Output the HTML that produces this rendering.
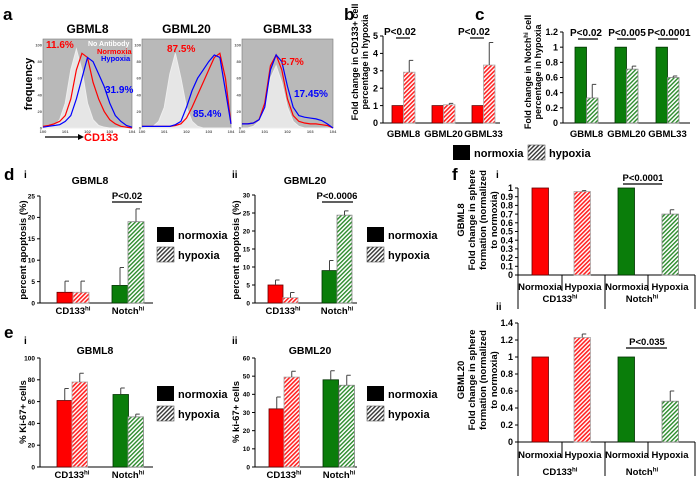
<!DOCTYPE html>
<html><head><meta charset="utf-8"><style>
body{margin:0;background:#fff}
svg{display:block;font-family:"Liberation Sans",Arial,sans-serif;font-weight:bold}
</style></head><body>
<svg id="fig" width="700" height="486" viewBox="0 0 700 486" xmlns="http://www.w3.org/2000/svg">
<defs>
<pattern id="hr" patternUnits="userSpaceOnUse" width="3" height="3" patternTransform="rotate(45)"><rect width="3" height="3" fill="#fff"/><rect width="1.6" height="3" fill="#f22"/></pattern>
<pattern id="hg" patternUnits="userSpaceOnUse" width="3" height="3" patternTransform="rotate(45)"><rect width="3" height="3" fill="#fff"/><rect width="1.4" height="3" fill="#2a8a2a"/></pattern>
<pattern id="hk" patternUnits="userSpaceOnUse" width="3" height="3" patternTransform="rotate(45)"><rect width="3" height="3" fill="#fff"/><rect width="1.4" height="3" fill="#333"/></pattern>
</defs>
<g id="root"></g>
</svg>
<script>
// ---- histogram data (panel a), values at decades 0..4 step 0.25 ----
const histDecades=[0,0.25,0.5,0.75,1,1.25,1.5,1.75,2,2.25,2.5,2.75,3,3.25,3.5,3.75,4];
const noAb8=[0,1,3,10,30,70,95,70,30,10,3,1,0,0,0,0,0];
const norm8=[2,3,5,8,15,35,70,90,85,55,35,20,10,5,2,1,0];
const hyp8=[1,2,3,4,8,15,35,60,85,80,65,50,30,15,8,3,1];
const noAb20=[0,1,2,8,25,65,90,60,25,8,2,0,0,0,0,0,0];
const norm20=[2,2,2,2,2,2,3,5,12,25,40,55,70,85,90,60,5];
const hyp20=[2,2,2,2,2,2,4,8,25,45,60,70,80,88,85,45,5];
const noAb33=[0,0,2,8,30,60,75,55,25,8,2,0,0,0,0,0,0];
const norm33=[5,5,6,10,30,75,88,70,35,15,8,6,5,5,4,3,0];
const hyp33=[5,5,6,10,25,70,88,80,50,25,15,13,12,11,9,5,0];
// ---- bar data ----
const bCats=["GBML8","GBML20","GBML33"];
const bNorm=[1,1,1]; const bHyp=[2.92,1.05,3.33]; const bHypErr=[0.68,0.08,1.3];
const bTicks=[0,1,2,3,4,5];
const cNorm=[1,1,1]; const cHyp=[0.33,0.71,0.60]; const cHypErr=[0.18,0.04,0.02];
const cTicks=[0,0.2,0.4,0.6,0.8,1,1.2];
const dCats=["CD133","Notch"];
const d1Vals=[2.5,2.5,4.1,19]; const d1Err=[2.6,2.6,4.2,3];
const d1Ticks=[0,5,10,15,20,25];
const d2Vals=[5,1.5,9,24.4]; const d2Err=[1.4,1.4,2.8,1.2];
const d2Ticks=[0,5,10,15,20,25,30];
const e1Vals=[61,78,66.5,46]; const e1Err=[11,8,6,2.5];
const e1Ticks=[0,20,40,60,80,100];
const e2Vals=[32,49.5,48,45]; const e2Err=[6.5,3.2,5,5.5];
const e2Ticks=[0,10,20,30,40,50,60];
const f1Vals=[1,0.96,1,0.70]; const f1Err=[0,0.01,0,0.05];
const f1Ticks=[0,0.1,0.2,0.3,0.4,0.5,0.6,0.7,0.8,0.9,1];
const f2Vals=[1,1.23,1,0.48]; const f2Err=[0,0.04,0,0.12];
const f2Ticks=[0,0.2,0.4,0.6,0.8,1,1.2,1.4];

const NS="http://www.w3.org/2000/svg";
const root=document.getElementById('root');
function mk(tag,at,parent){const e=document.createElementNS(NS,tag);for(const k in at)e.setAttribute(k,at[k]);(parent||root).appendChild(e);return e;}
function txt(x,y,s,size,fill,anchor,parent){const t=mk('text',{x:x,y:y,'font-size':size,fill:fill||'#000','text-anchor':anchor||'start'},parent);t.textContent=s;return t;}

// ---- panel a ----
function hist(x0,y0,w,h,title,noAb,norm,hyp,name){
  const g=mk('g',{});
  
  
  mk('rect',{x:x0,y:y0,width:w,height:h,fill:'#b9b9b9',stroke:'#777','stroke-width':0.6},g);
  const sx=d=>x0+d/4*w, sy=v=>y0+h-v/100*(h-6);
  function pts(arr){return arr.map((v,i)=>sx(histDecades[i])+','+sy(v)).join(' ');}
  const fill=mk('polygon',{points:sx(0)+','+sy(0)+' '+pts(noAb)+' '+sx(4)+','+sy(0),fill:'#e6e6e6',stroke:'#eee'},g);
  
  
  const r=mk('polyline',{points:pts(norm),fill:'none',stroke:'#f00','stroke-width':1.2},g);
  
  
  const b=mk('polyline',{points:pts(hyp),fill:'none',stroke:'#00f','stroke-width':1.2},g);
  
  
  const t=txt(x0+w/2,y0-6,title,12,'#000','middle',g);
  
  
  [0,20,40,60,80,100].forEach(v=>txt(x0-1,sy(v)+1.5,v,4,'#555','end',g));
  [0,1,2,3,4].forEach(d=>txt(sx(d),y0+h+5,'10'+d,4,'#555','middle',g));
  return g;
}
txt(3,20,'a',17);
hist(43,39,89,89,'GBML8',noAb8,norm8,hyp8,'histogram-gbml8');
hist(142,39,89,89,'GBML20',noAb20,norm20,hyp20,'histogram-gbml20');
hist(242,39,91,89,'GBML33',noAb33,norm33,hyp33,'histogram-gbml33');
txt(46,48,'11.6%',10,'#f00');txt(88,46,'No Antibody',7,'#fff');txt(97,54,'Normoxia',7.5,'#f00');txt(101,61,'Hypoxia',7.5,'#00f');
txt(105,93,'31.9%',10,'#00f');
txt(167,52,'87.5%',10,'#f00');txt(193,117,'85.4%',10,'#00f');
txt(281,65,'5.7%',10,'#f00');txt(294,97,'17.45%',10,'#00f');
{const t=txt(0,0,'frequency',11);t.setAttribute('transform','translate(32,84) rotate(-90)');t.setAttribute('text-anchor','middle');}
mk('line',{x1:45,y1:137,x2:80,y2:137,stroke:'#000','stroke-width':1.3});
mk('polygon',{points:'84,137 78,134 78,140',fill:'#000'});
txt(84,141,'CD133',11,'#f00');

// ---- generic bar chart ----
function barChart(o){
  const g=mk('g',{});
  
  
  const ymax=o.ticks[o.ticks.length-1];
  const sy=v=>o.y0-(v/ymax)*(o.y0-o.yTop);
  mk('line',{x1:o.ax,y1:o.yTop,x2:o.ax,y2:o.y0,stroke:'#000','stroke-width':1},g);
  mk('line',{x1:o.ax,y1:o.y0,x2:o.axEnd,y2:o.y0,stroke:'#000','stroke-width':1},g);
  o.ticks.forEach(t=>{const y=sy(t);mk('line',{x1:o.ax-3,y1:y,x2:o.ax,y2:y,stroke:'#000'},g);
    const lab=txt(o.ax-5,y+o.tickSize*0.35,(o.fmt?o.fmt(t):t),o.tickSize,'#000','end',g);
    
    });
  o.values.forEach((v,i)=>{
    const x=o.barX[i],w=o.barW;
    const r=mk('rect',{x:x,y:sy(v),width:w,height:o.y0-sy(v),fill:o.fills[i],stroke:o.strokes[i],'stroke-width':0.8},g);
    
    
    const e=o.errs[i];
    if(e>0){const xm=x+w/2;const ye=sy(v+e);
      const el=mk('path',{d:`M${xm},${sy(v)}V${ye}M${xm},${ye}H${xm+4}`,stroke:'#444','stroke-width':1,fill:'none'},g);
      
      }
  });
  return {g,sy};
}
const red='#f00',green='#0a7d0a';
function hiLabel(x,y,base,size,parent){const t=txt(x,y,base,size,'#000','middle',parent);const s=mk('tspan',{'font-size':size*0.65,dy:-size*0.35},t);s.textContent='hi';return t;}
function pval(cx,y,s,x1,x2,size){txt(cx,y,s,size||10,'#000','middle');mk('line',{x1:x1,y1:y+3,x2:x2,y2:y+3,stroke:'#000','stroke-width':1.2});}
function ytitle(cx,cy,lines,size,gap){lines.forEach((l,i)=>{const t=txt(0,0,l,size,'#000','middle');t.setAttribute('transform',`translate(${cx+i*gap},${cy}) rotate(-90)`);});}
function swatch(x,y,fill,name){
  const a=mk('rect',{x:x,y:y,width:17,height:15,fill:fill,stroke:fill==='#000'?'none':'#555','stroke-width':0.6});
  
  
}
function legend(x,y,gap,size){
  swatch(x,y,'#000','legend-normoxia-swatch');
  txt(x+21,y+12,'normoxia',size);
  swatch(x,y+gap,'url(#hk)','legend-hypoxia-swatch');
  txt(x+21,y+gap+12,'hypoxia',size);
}

// ---- panel b ----
txt(344,20,'b',17);
{const groupX=[392,432,472];
 const vals=[],errs=[],bx=[],fills=[],strokes=[];
 bCats.forEach((c,i)=>{vals.push(bNorm[i],bHyp[i]);errs.push(0,bHypErr[i]);bx.push(groupX[i],groupX[i]+11.5);fills.push(red,'url(#hr)');strokes.push('#600','#aaa');});
 barChart({name:'chart-b',ax:383,axEnd:500,y0:123,yTop:36,ticks:bTicks,tickSize:9,values:vals,errs:errs,barX:bx,barW:11.5,fills:fills,strokes:strokes});
 bCats.forEach((c,i)=>txt(groupX[i]+11.5,137,c,9.5,'#000','middle'));
 pval(400,35,'P<0.02',396,410);pval(474,35,'P<0.02',470,484);
 ytitle(358,62,['Fold change in CD133+ cell','percentage in hypoxia'],9,10);
}
// ---- panel c ----
txt(475,20,'c',17);
{const groupX=[575,615,656];
 const vals=[],errs=[],bx=[],fills=[],strokes=[];
 bCats.forEach((c,i)=>{vals.push(cNorm[i],cHyp[i]);errs.push(0,cHypErr[i]);bx.push(groupX[i],groupX[i]+11.5);fills.push(green,'url(#hg)');strokes.push('#030','#888');});
 barChart({name:'chart-c',ax:563,axEnd:690,y0:123,yTop:32,ticks:cTicks,tickSize:9,values:vals,errs:errs,barX:bx,barW:11.5,fills:fills,strokes:strokes});
 bCats.forEach((c,i)=>txt(groupX[i]+11.5,137,c,9.5,'#000','middle'));
 pval(586,36,'P<0.02',578,598);pval(627,36,'P<0.005',617,636);pval(669,36,'P<0.0001',658,678);
 {const t=txt(0,0,'Fold change in Notch',9,'#000','middle');t.setAttribute('transform','translate(531,72) rotate(-90)');const s=mk('tspan',{'font-size':6,dy:-3},t);s.textContent='hi';const s2=mk('tspan',{dy:3},t);s2.textContent=' cell';
  const t2=txt(0,0,'percentage in hypoxia',9,'#000','middle');t2.setAttribute('transform','translate(541,72) rotate(-90)');}
}
swatch(453,145,'#000','legend-normoxia-swatch-bc');
txt(474,157,'normoxia',11);
swatch(528,145,'url(#hk)','legend-hypoxia-swatch-bc');
txt(549,157,'hypoxia',11);

// ---- panel d ----
txt(4,180,'d',17);
function fourBar(name,ax,axEnd,y0,yTop,ticks,vals,errs,bx,bw,catX,catY,tsize){
  barChart({name:name,ax:ax,axEnd:axEnd,y0:y0,yTop:yTop,ticks:ticks,tickSize:tsize||6.5,values:vals,errs:errs,barX:bx,barW:bw,fills:[red,'url(#hr)',green,'url(#hg)'],strokes:['#600','#aaa','#030','#888']});
  dCats.forEach((c,i)=>hiLabel(catX[i],catY,c,9.5));
}
txt(24,178,'i',10);txt(90,184,'GBML8',10.5,'#000','middle');
fourBar('chart-d-i',40,153,303,196,d1Ticks,d1Vals,d1Err,[57,73,112,128],16,[73,128],314);
pval(127,199,'P<0.02',112,142,9.5);
ytitle(26,250,['percent apoptosis (%)'],9.5,0);
legend(157,227,20,11);
txt(232,178,'ii',10);txt(305,184,'GBML20',10.5,'#000','middle');
fourBar('chart-d-ii',255,357,303,195,d2Ticks,d2Vals,d2Err,[268,283,322,337],15,[283,337],314);
pval(337,199,'P<0.0006',322,353,9.5);
ytitle(239,250,['percent apoptosis (%)'],9.5,0);
legend(367,227,20,11);

// ---- panel e ----
txt(4,338,'e',17);
txt(24,344,'i',10);txt(95,354,'GBML8',10.5,'#000','middle');
fourBar('chart-e-i',40,153,467,358,e1Ticks,e1Vals,e1Err,[57,72,113,128],15.5,[72,128],478);
ytitle(26,412,['% Ki-67+ cells'],9.5,0);
legend(157,386,20,11);
txt(232,344,'ii',10);txt(310,354,'GBML20',10.5,'#000','middle');
fourBar('chart-e-ii',255,357,467,358,e2Ticks,e2Vals,e2Err,[269,284,323,339],15.5,[284,339],478);
ytitle(239,412,['% ki-67+ cells'],9.5,0);
legend(367,386,20,11);

// ---- panel f ----
txt(452,180,'f',17);
function fChart(name,y0,yTop,ticks,vals,errs,catY,grpY){
  barChart({name:name,ax:518,axEnd:695,y0:y0,yTop:yTop,ticks:ticks,tickSize:9,fmt:t=>+t.toFixed(1),values:vals,errs:errs,barX:[532,574,618,662],barW:16.5,fills:[red,'url(#hr)',green,'url(#hg)'],strokes:['#600','#aaa','#030','#888']});
  ['Normoxia','Hypoxia','Normoxia','Hypoxia'].forEach((c,i)=>txt([540,583,627,670][i],catY,c,9.5,'#000','middle'));
  [562,648].forEach(x=>mk('line',{x1:x,y1:y0,x2:x,y2:y0+16,stroke:'#000'}));
  [518,605,695].forEach(x=>mk('line',{x1:x,y1:y0,x2:x,y2:y0+34,stroke:'#000'}));
  hiLabel(560,grpY,'CD133',9.5);hiLabel(642,grpY,'Notch',9.5);
}
txt(496,178,'i',10);
fChart('chart-f-i',275,188,f1Ticks,f1Vals,f1Err,290,302);
pval(643,181,'P<0.0001',623,662,9.5);
ytitle(464,220,['GBML8','Fold change in sphere','formation (normalized','to normoxia)'],9.5,11);
txt(496,310,'ii',10);
fChart('chart-f-ii',442,323,f2Ticks,f2Vals,f2Err,458,475);
pval(647,345,'P<0.035',626,667,9.5);
ytitle(464,380,['GBML20','Fold change in sphere','formation (normalized','to normoxia)'],9.5,11);
</script>
</body></html>
